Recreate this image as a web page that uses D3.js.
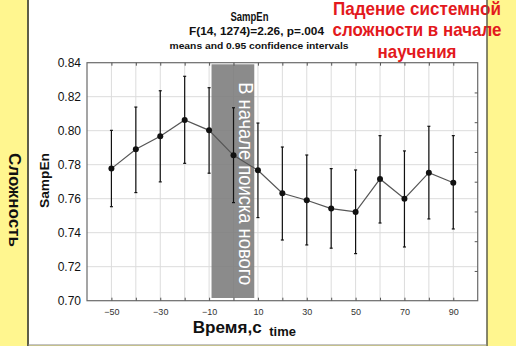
<!DOCTYPE html>
<html>
<head>
<meta charset="utf-8">
<script src="https://cdn.jsdelivr.net/npm/d3@7/dist/d3.min.js"></script>
<style>
  html, body { margin: 0; padding: 0; background: #fff68f; }
  svg { display: block; font-family: Arial, "Liberation Sans", sans-serif; }
</style>
</head>
<body>
<svg id="chart" width="516" height="346"></svg>
<script>
// Time points (s) and SampEn means with 0.95 confidence limits
const times   = [-50, -40, -30, -20, -10, 0, 10, 20, 30, 40, 50, 60, 70, 80, 90];
const means   = [0.7777, 0.7891, 0.7967, 0.8063, 0.8002, 0.7855, 0.7767, 0.7632, 0.7591, 0.7542, 0.7522, 0.7716, 0.7600, 0.7753, 0.7694];
const ciUpper = [0.8002, 0.8139, 0.8235, 0.8320, 0.8253, 0.8135, 0.8045, 0.7904, 0.7857, 0.7777, 0.7769, 0.7971, 0.7881, 0.8026, 0.7971];
const ciLower = [0.7553, 0.7636, 0.7699, 0.7808, 0.7750, 0.7577, 0.7489, 0.7357, 0.7328, 0.7309, 0.7277, 0.7457, 0.7316, 0.7481, 0.7422];

const yTicks = [0.70, 0.72, 0.74, 0.76, 0.78, 0.80, 0.82, 0.84];
const xTickLabels = [-50, -30, -10, 10, 30, 50, 70, 90];
const xGrid = [-50, -40, -30, -20, -10, 0, 10, 20, 30, 40, 50, 60, 70, 80, 90];
// Search-onset window on the time axis
const windowFrom = -9;
const windowTo = 8.5;

const svg = d3.select("#chart");

// White slide panel
svg.append("rect")
  .attr("x", 28).attr("y", -2).attr("width", 459).attr("height", 347)
  .attr("fill", "#ffffff");

const plot = { left: 87, right: 477.7, top: 62.7, bottom: 300.7 };
const x = d3.scaleLinear().domain([-60, 100]).range([plot.left, plot.right]);
const y = d3.scaleLinear().domain([0.70, 0.84]).range([plot.bottom, plot.top]);

// Grid
svg.append("g").selectAll("line").data(xGrid).join("line")
  .attr("x1", d => x(d)).attr("x2", d => x(d))
  .attr("y1", plot.top).attr("y2", plot.bottom)
  .attr("stroke", "#dcdcdc").attr("stroke-width", 1);
svg.append("g").selectAll("line").data(yTicks.slice(1, -1)).join("line")
  .attr("x1", plot.left).attr("x2", plot.right)
  .attr("y1", d => y(d)).attr("y2", d => y(d))
  .attr("stroke", "#dcdcdc").attr("stroke-width", 1);

// Highlighted window
svg.append("rect")
  .attr("x", x(windowFrom)).attr("width", x(windowTo) - x(windowFrom))
  .attr("y", plot.top + 1.6).attr("height", plot.bottom - plot.top - 4.3)
  .attr("fill", "#7b7b7b").attr("fill-opacity", 0.88);

svg.append("text")
  .attr("transform", `translate(${x(windowTo) - 15.5},${(plot.top + plot.bottom) / 2 + 2}) rotate(90)`)
  .attr("text-anchor", "middle")
  .attr("font-size", 20).attr("fill", "#ffffff")
  .attr("textLength", 203).attr("lengthAdjust", "spacingAndGlyphs")
  .text("В начале поиска нового");

// Frame
svg.append("rect")
  .attr("x", plot.left).attr("y", plot.top)
  .attr("width", plot.right - plot.left).attr("height", plot.bottom - plot.top)
  .attr("fill", "none").attr("stroke", "#6a6a6a").attr("stroke-width", 1.2);

// Inner tick marks on top / bottom / right edges
const axisTop = d3.axisTop(x).tickValues(xGrid).tickSize(-3).tickFormat("");
svg.append("g").attr("transform", `translate(0,${plot.top})`).call(axisTop)
  .call(g => g.select(".domain").remove())
  .call(g => g.selectAll("line").attr("stroke", "#555"));
const axisBottom = d3.axisBottom(x).tickValues(xGrid).tickSize(-3).tickFormat("");
svg.append("g").attr("transform", `translate(0,${plot.bottom})`).call(axisBottom)
  .call(g => g.select(".domain").remove())
  .call(g => g.selectAll("line").attr("stroke", "#555"));
const rightTicks = d3.range(1, 8).map(i => y.domain()[0] + i * (y.domain()[1] - y.domain()[0]) / 8);
const axisRight = d3.axisRight(y).tickValues(rightTicks).tickSize(-3).tickFormat("");
svg.append("g").attr("transform", `translate(${plot.right},0)`).call(axisRight)
  .call(g => g.select(".domain").remove())
  .call(g => g.selectAll("line").attr("stroke", "#555"));

// Y tick labels
const axisLeft = d3.axisLeft(y).tickValues(yTicks).tickSize(0).tickPadding(6)
  .tickFormat(d3.format(".2f"));
svg.append("g").attr("transform", `translate(${plot.left},0)`).call(axisLeft)
  .call(g => g.select(".domain").remove())
  .call(g => g.selectAll("text").attr("font-size", 12).attr("fill", "#111")
    .attr("font-family", "Arial, 'Liberation Sans', sans-serif"));

// X tick labels
const axisX = d3.axisBottom(x).tickValues(xTickLabels).tickSize(0).tickPadding(8)
  .tickFormat(d3.format("d"));
svg.append("g").attr("transform", `translate(0,${plot.bottom})`).call(axisX)
  .call(g => g.select(".domain").remove())
  .call(g => g.selectAll("text").attr("font-size", 9).attr("fill", "#333")
    .attr("font-family", "Arial, 'Liberation Sans', sans-serif"));

// Error bars
const bars = svg.append("g").attr("stroke", "#111").attr("stroke-width", 1.2);
times.forEach((t, i) => {
  bars.append("line").attr("x1", x(t)).attr("x2", x(t))
    .attr("y1", y(ciUpper[i])).attr("y2", y(ciLower[i]));
  bars.append("line").attr("x1", x(t) - 1.5).attr("x2", x(t) + 1.5)
    .attr("y1", y(ciUpper[i])).attr("y2", y(ciUpper[i]));
  bars.append("line").attr("x1", x(t) - 1.5).attr("x2", x(t) + 1.5)
    .attr("y1", y(ciLower[i])).attr("y2", y(ciLower[i]));
});

// Mean line and points
const line = d3.line().x((d, i) => x(times[i])).y(d => y(d));
svg.append("path").datum(means).attr("d", line)
  .attr("fill", "none").attr("stroke", "#555").attr("stroke-width", 1.2);
svg.append("g").selectAll("circle").data(means).join("circle")
  .attr("cx", (d, i) => x(times[i])).attr("cy", d => y(d)).attr("r", 3)
  .attr("fill", "#111");

// Titles
svg.append("text").attr("x", 249.5).attr("y", 20.5).attr("text-anchor", "middle")
  .attr("font-size", 13).attr("font-weight", "bold").attr("fill", "#111")
  .attr("textLength", 38).attr("lengthAdjust", "spacingAndGlyphs").text("SampEn");
svg.append("text").attr("x", 256.5).attr("y", 35).attr("text-anchor", "middle")
  .attr("font-size", 11).attr("font-weight", "bold").attr("fill", "#111")
  .attr("textLength", 135).attr("lengthAdjust", "spacingAndGlyphs").text("F(14, 1274)=2.26, p=.004");
svg.append("text").attr("x", 259).attr("y", 48.5).attr("text-anchor", "middle")
  .attr("font-size", 9.5).attr("font-weight", "bold").attr("fill", "#111")
  .attr("textLength", 179).attr("lengthAdjust", "spacingAndGlyphs").text("means and 0.95 confidence intervals");

// Axis titles
svg.append("text")
  .attr("transform", `translate(48.5,180.5) rotate(-90)`)
  .attr("text-anchor", "middle").attr("font-size", 13).attr("font-weight", "bold").attr("fill", "#111")
  .attr("textLength", 55).attr("lengthAdjust", "spacingAndGlyphs").text("SampEn");
svg.append("text").attr("x", 192.7).attr("y", 332.5)
  .attr("font-size", 16.5).attr("font-weight", "bold").attr("fill", "#111")
  .attr("textLength", 69).attr("lengthAdjust", "spacingAndGlyphs").text("Время,с");
svg.append("text").attr("x", 269.3).attr("y", 335.5)
  .attr("font-size", 12).attr("font-weight", "bold").attr("fill", "#111")
  .attr("textLength", 26.7).attr("lengthAdjust", "spacingAndGlyphs").text("time");

// Slide annotation
const note = ["Падение системной", "сложности в начале", "научения"];
const noteWidths = [168, 169, 79];
svg.append("g").selectAll("text").data(note).join("text")
  .attr("x", 417).attr("y", (d, i) => 15 + i * 21.3)
  .attr("text-anchor", "middle")
  .attr("font-size", 19).attr("font-weight", "bold").attr("fill", "#e3191d")
  .attr("textLength", (d, i) => noteWidths[i]).attr("lengthAdjust", "spacingAndGlyphs")
  .text(d => d);

// Panel edges
svg.append("line").attr("x1", 28).attr("x2", 28).attr("y1", 0).attr("y2", 346)
  .attr("stroke", "#5e5e48").attr("stroke-width", 2);
svg.append("line").attr("x1", 487).attr("x2", 487).attr("y1", 0).attr("y2", 346)
  .attr("stroke", "#5e5e48").attr("stroke-width", 1.5);
svg.append("line").attr("x1", 28).attr("x2", 487).attr("y1", 345).attr("y2", 345)
  .attr("stroke", "#8a8a8a").attr("stroke-width", 1.2);

// Side label
svg.append("text")
  .attr("transform", `translate(9,200) rotate(90)`)
  .attr("text-anchor", "middle").attr("font-size", 16).attr("font-weight", "bold").attr("fill", "#111")
  .attr("textLength", 94).attr("lengthAdjust", "spacingAndGlyphs").text("Сложность");
</script>
</body>
</html>
